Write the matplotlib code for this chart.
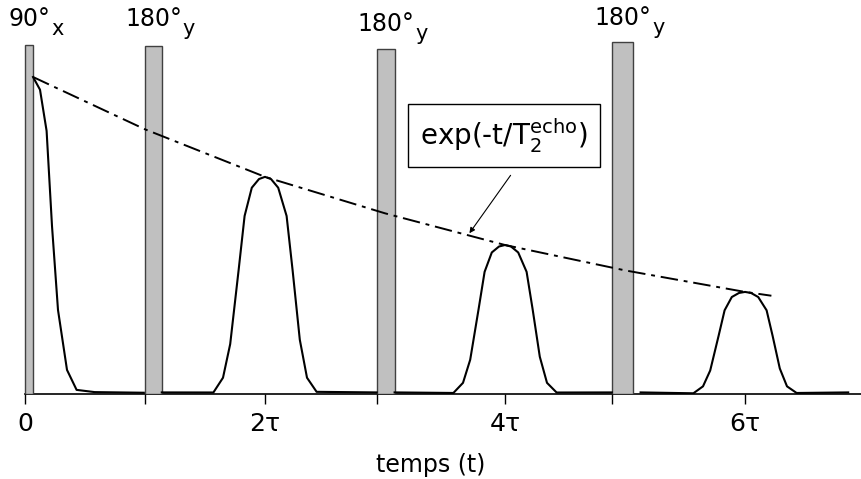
import matplotlib.pyplot as plt

plt.rcParams['font.family'] = ['DejaVu Sans']
plt.rcParams['mathtext.fontset'] = 'dejavusans'

# RF pulses (time in units of tau, height relative to FID start)
pulse_start = [0.0, 1.0, 2.93, 4.89]
pulse_end = [0.067, 1.14, 3.08, 5.07]
pulse_height = [1.10, 1.098, 1.088, 1.11]
pulse_names = ['90°', '180°', '180°', '180°']
pulse_phase = ['x', 'y', 'y', 'y']
label_height = [1.16, 1.16, 1.145, 1.165]

# free induction decay after the 90 pulse
fid_t = [0.067, 0.125, 0.18, 0.225, 0.275, 0.35, 0.43, 0.58, 0.99]
fid_a = [1.0, 0.96, 0.83, 0.53, 0.265, 0.076, 0.013, 0.006, 0.004]

# echoes
echo_center = [2.0, 4.0, 6.0]
echo_amp = [0.685, 0.47, 0.322]
echo_from = [1.14, 3.08, 5.13]
echo_to = [2.93, 4.89, 6.86]
echo_offset = [-0.43, -0.35, -0.29, -0.22, -0.17, -0.11, -0.05, 0.0,
               0.05, 0.11, 0.18, 0.23, 0.29, 0.35, 0.43]
echo_shape = [0.007, 0.075, 0.23, 0.57, 0.82, 0.95, 0.99, 1.0,
              0.99, 0.95, 0.82, 0.57, 0.25, 0.075, 0.01]
tail_level = 0.005

# T2 echo envelope
env_t = [0.067, 1.0, 2.0, 3.0, 4.0, 5.0, 6.0, 6.22]
env_a = [1.0, 0.835, 0.685, 0.57, 0.47, 0.39, 0.322, 0.31]

tick_pos = [0, 1.0, 2, 2.93, 4, 4.89, 6]
tick_labels = ['0', '', '2τ', '', '4τ', '', '6τ']

fig = plt.figure(figsize=(8.61, 4.79), dpi=100)
ax = fig.add_axes([0, 85 / 479, 1, 394 / 479])
renderer = fig.canvas.get_renderer()

# pulses with labels, subscript placed after the centred main text
for x0, x1, h, name, ph, lh in zip(pulse_start, pulse_end, pulse_height,
                                   pulse_names, pulse_phase, label_height):
    ax.bar(x0, h, width=x1 - x0, align='edge', color='#c0c0c0',
           edgecolor='#404040', linewidth=1, zorder=3)
    cx = (x0 + x1) / 2
    txt = ax.text(cx, lh, name, ha='center', va='baseline', fontsize=17)
    half_w = txt.get_window_extent(renderer).width / 2
    ax.annotate(ph, xy=(cx, lh), xytext=(half_w + 1, -9), textcoords='offset pixels',
                ha='left', va='baseline', fontsize=15)

# FID
ax.plot(fid_t, fid_a, color='black', lw=1.5, zorder=4)

# echoes
for c, amp, t0, t1 in zip(echo_center, echo_amp, echo_from, echo_to):
    t = [t0] + [c + o for o in echo_offset] + [t1]
    a = [tail_level] + [amp * s for s in echo_shape] + [tail_level]
    ax.plot(t, a, color='black', lw=1.5, zorder=4)

# envelope
ax.plot(env_t, env_a, color='black', lw=1.4, dashes=(9, 3, 2, 3), zorder=5)

ax.text(3.99, 0.815, r'exp(-t/T$_\mathregular{2}^\mathregular{echo}$)', fontsize=20,
        ha='center', va='center',
        bbox=dict(boxstyle='square,pad=0.45', facecolor='white', edgecolor='black', lw=1))
ax.annotate('', xy=(3.69, 0.50), xytext=(4.06, 0.697),
            arrowprops=dict(arrowstyle='-|>', lw=0.8, color='black', mutation_scale=8))

ax.set_xlim(-25 / 120, 836 / 120)
ax.set_ylim(0, 394 / 317)
for s in ['left', 'right', 'top']:
    ax.spines[s].set_visible(False)
ax.spines['bottom'].set_bounds(0, 836 / 120)
ax.spines['bottom'].set_linewidth(1.2)
ax.set_yticks([])
ax.set_xticks(tick_pos)
ax.set_xticklabels(tick_labels, fontsize=18)
ax.tick_params(axis='x', direction='out', length=7, width=1, pad=6)
ax.set_xlabel('temps (t)', fontsize=17, labelpad=12)

fig.savefig('out.png', dpi=100)
